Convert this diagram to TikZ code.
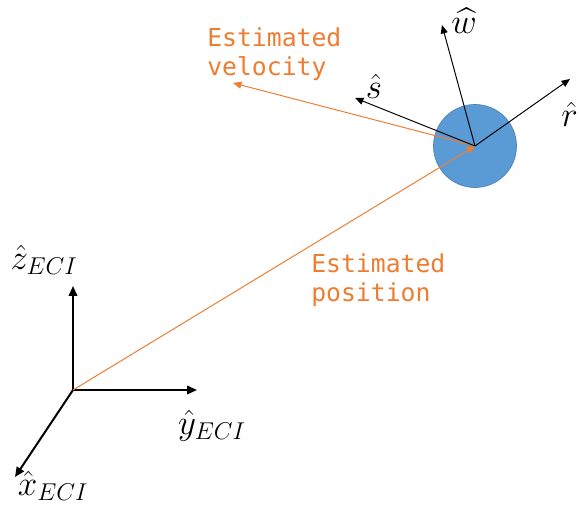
\documentclass[tikz,border=0pt]{standalone}
\usepackage{amsmath,amssymb}
\usepackage{fontspec}
\usepackage{xcolor}
\usepackage{tikz}
\usetikzlibrary{arrows.meta,calc,positioning}
\newfontfamily\monofont{DejaVu Sans Mono}
\definecolor{estorange}{RGB}{237,125,49}
\definecolor{satblue}{RGB}{91,155,213}
\definecolor{satedge}{RGB}{75,130,185}
\tikzset{
  ecivec/.style={black,line width=1.4pt,-{Triangle[length=7pt,width=6pt]}},
  rswvec/.style={black,line width=0.7pt,-{Triangle[length=6pt,width=5pt]}},
  estvec/.style={estorange,line width=0.7pt,-{Triangle[length=6pt,width=5pt]}},
  veclabel/.style={font=\fontsize{24}{28}\selectfont,inner sep=0pt},
  estlabel/.style={estorange,font=\monofont\fontsize{17.6}{20.6}\selectfont,align=left,inner sep=0pt,anchor=north west}
}

\begin{document}
\begin{tikzpicture}[x=0.025cm,y=-0.025cm]
  \useasboundingbox (0,0) rectangle (579,510);
  % ECI frame
  \coordinate (origin) at (73,390);
  \coordinate (ztip) at (73,286);
  \coordinate (ytip) at (197,390);
  \coordinate (xtip) at (15,477);
  \draw[ecivec] (origin) -- (ztip);
  \draw[ecivec] (origin) -- (ytip);
  \draw[ecivec] (origin) -- (xtip);
  \node[veclabel] (zlab) at (44,260) {$\hat{z}_{ECI}$};
  \node[veclabel] (ylab) at (212,426) {$\hat{y}_{ECI}$};
  \node[veclabel] (xlab) at (53,486) {$\hat{x}_{ECI}$};
  % satellite
  \node[circle,fill=satblue,draw=satedge,line width=0.5pt,minimum size=83*0.025cm,inner sep=0pt] (sat) at (475,146) {};
  \coordinate (rtip) at (570,79);
  \coordinate (stip) at (355,98);
  \coordinate (wtip) at (442,25);
  \coordinate (vtip) at (233,83);
  \draw[estvec] (sat.center) -- (vtip);
  \draw[rswvec] (sat.center) -- (rtip);
  \draw[rswvec] (sat.center) -- (stip);
  \draw[rswvec] (sat.center) -- (wtip);
  \draw[estvec] (origin) -- (sat.center);
  \node[veclabel] (wlab) at (464,21) {$\widehat{w}$};
  \node[veclabel] (slab) at (374,86) {$\hat{s}$};
  \node[veclabel,anchor=west] (rlab) at (561,114) {$\hat{r}$};
  % estimates
  \node[estlabel] (vellab) at (207,27) {Estimated\\velocity};
  \node[estlabel] (poslab) at (311,253) {Estimated\\position};
\end{tikzpicture}
\end{document}
